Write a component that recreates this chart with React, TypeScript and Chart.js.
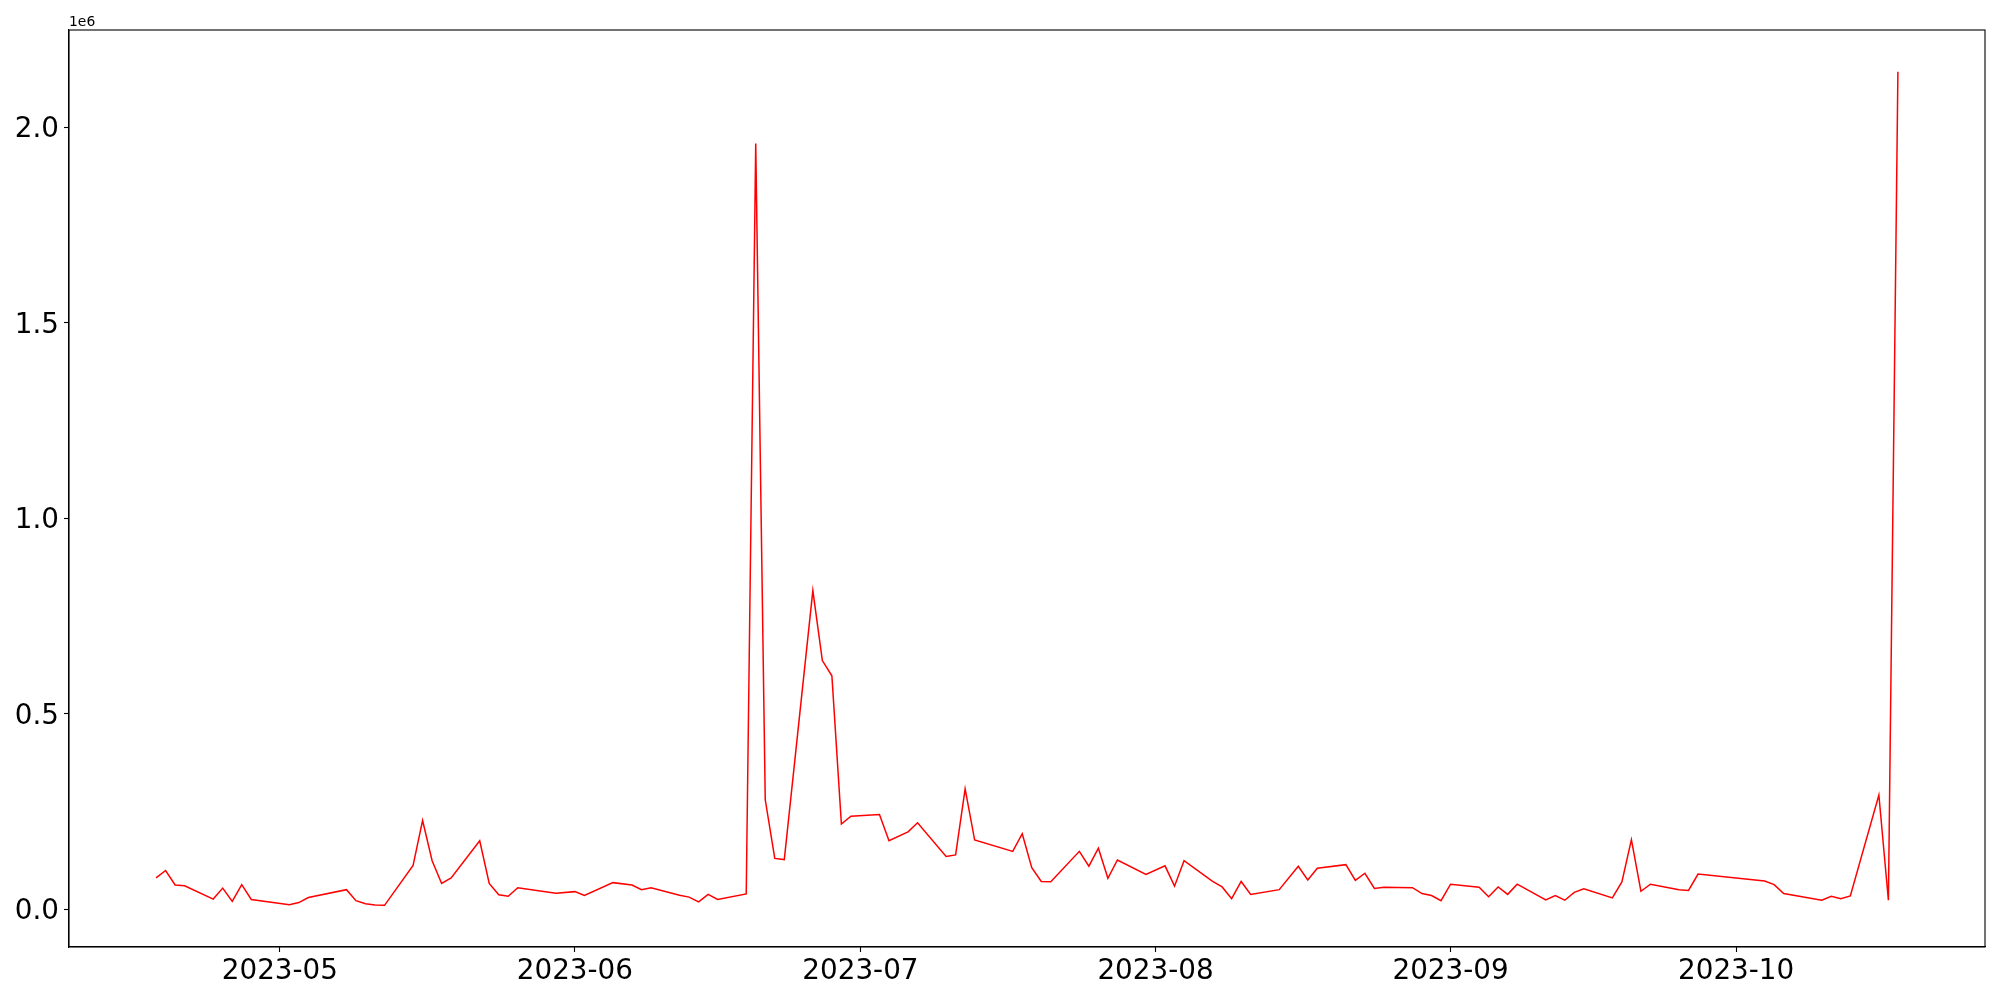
import React, { useEffect, useRef } from "react";
import { Chart, registerables } from "chart.js";

Chart.register(...registerables);

const dates: string[] = [
  "2023-04-18", "2023-04-19", "2023-04-20", "2023-04-21", "2023-04-24", "2023-04-25", "2023-04-26", "2023-04-27", "2023-04-28",
  "2023-05-02", "2023-05-03", "2023-05-04", "2023-05-08", "2023-05-09", "2023-05-10", "2023-05-11", "2023-05-12",
  "2023-05-15", "2023-05-16", "2023-05-17", "2023-05-18", "2023-05-19", "2023-05-22", "2023-05-23", "2023-05-24",
  "2023-05-25", "2023-05-26", "2023-05-30", "2023-06-01", "2023-06-02", "2023-06-05", "2023-06-07", "2023-06-08",
  "2023-06-09", "2023-06-12", "2023-06-13", "2023-06-14", "2023-06-15", "2023-06-16", "2023-06-19", "2023-06-20",
  "2023-06-21", "2023-06-22", "2023-06-23", "2023-06-26", "2023-06-27", "2023-06-28", "2023-06-29", "2023-06-30",
  "2023-07-03", "2023-07-04", "2023-07-06", "2023-07-07", "2023-07-10", "2023-07-11", "2023-07-12", "2023-07-13",
  "2023-07-17", "2023-07-18", "2023-07-19", "2023-07-20", "2023-07-21", "2023-07-24", "2023-07-25", "2023-07-26",
  "2023-07-27", "2023-07-28", "2023-07-31", "2023-08-02", "2023-08-03", "2023-08-04", "2023-08-07", "2023-08-08",
  "2023-08-09", "2023-08-10", "2023-08-11", "2023-08-14", "2023-08-16", "2023-08-17", "2023-08-18", "2023-08-21",
  "2023-08-22", "2023-08-23", "2023-08-24", "2023-08-25", "2023-08-28", "2023-08-29", "2023-08-30", "2023-08-31",
  "2023-09-01", "2023-09-04", "2023-09-05", "2023-09-06", "2023-09-07", "2023-09-08", "2023-09-11", "2023-09-12",
  "2023-09-13", "2023-09-14", "2023-09-15", "2023-09-18", "2023-09-19", "2023-09-20", "2023-09-21", "2023-09-22",
  "2023-09-25", "2023-09-26", "2023-09-27", "2023-10-04", "2023-10-05", "2023-10-06", "2023-10-10", "2023-10-11",
  "2023-10-12", "2023-10-13", "2023-10-16", "2023-10-17", "2023-10-18",
];

const values: number[] = [
  80000, 99000, 62000, 60000, 26000, 54000, 20000, 63000, 25000,
  11500, 17000, 30000, 50000, 22000, 14000, 11000, 10000,
  112000, 227000, 124000, 66000, 80000, 175000, 66000, 37000,
  33000, 55000, 41000, 45000, 35000, 68000, 62000, 50000,
  55000, 36000, 31000, 19000, 38000, 25000, 39000, 1958000,
  280000, 130000, 127000, 815000, 636000, 597000, 218000, 238000,
  242000, 175000, 198000, 221000, 135000, 139000, 308000, 177000,
  148000, 193000, 106000, 71000, 70000, 148000, 110000, 156000,
  79000, 126000, 89000, 111000, 59000, 124000, 71000, 57000,
  27000, 71000, 38000, 50000, 110000, 75000, 105000, 114000,
  74000, 92000, 53000, 56000, 55000, 40000, 35000, 22000,
  64000, 56000, 32000, 57000, 38000, 64000, 24000, 35000,
  23000, 43000, 52000, 29000, 70000, 178000, 46000, 64000,
  50000, 48000, 90000, 72000, 63000, 40000, 23000, 33000,
  27000, 34000, 292000, 23000, 2142000,
];

const xTickLabels: string[] = ["2023-05", "2023-06", "2023-07", "2023-08", "2023-09", "2023-10"];
const yTickValues: number[] = [0, 500000, 1000000, 1500000, 2000000];

const DAY = 86400000;
const toDay = (s: string) => {
  const [y, m, d] = s.split("-").map(Number);
  return Date.UTC(y, m - 1, d) / DAY;
};
const fmtMonth = (v: number) => {
  const dt = new Date(v * DAY);
  return `${dt.getUTCFullYear()}-${String(dt.getUTCMonth() + 1).padStart(2, "0")}`;
};

export default function App() {
  const ref = useRef<HTMLCanvasElement>(null);
  useEffect(() => {
    const canvas = ref.current!;
    const pts = dates.map((d, i) => ({ x: toDay(d), y: values[i] }));
    const xs = pts.map((p) => p.x);
    const xMin0 = Math.min(...xs), xMax0 = Math.max(...xs);
    const xm = (xMax0 - xMin0) * 0.05;
    const yMin0 = Math.min(...values), yMax0 = Math.max(...values);
    const ym = (yMax0 - yMin0) * 0.05;
    const xTicks = xTickLabels.map((l) => toDay(l + "-01"));
    const font = { family: "'DejaVu Sans', sans-serif", size: 27.8 };

    const boxPlugin = {
      id: "box",
      afterDraw(chart: any) {
        const { ctx, chartArea } = chart;
        ctx.save();
        ctx.strokeStyle = "#000";
        ctx.lineWidth = 1.1;
        ctx.strokeRect(chartArea.left, chartArea.top, chartArea.right - chartArea.left, chartArea.bottom - chartArea.top);
        ctx.fillStyle = "#000";
        ctx.font = "13.9px 'DejaVu Sans', sans-serif";
        ctx.textAlign = "left";
        ctx.textBaseline = "alphabetic";
        ctx.fillText("1e6", chartArea.left, chartArea.top - 4);
        ctx.restore();
      },
    };

    const chart = new Chart(canvas, {
      type: "line",
      data: {
        datasets: [
          {
            data: pts,
            borderColor: "#ff0000",
            borderWidth: 1.5,
            pointRadius: 0,
            tension: 0,
            fill: false,
          },
        ],
      },
      options: {
        animation: false,
        responsive: false,
        parsing: false as any,
        layout: { padding: { top: 30, right: 15, left: 0, bottom: 0 } },
        plugins: { legend: { display: false }, tooltip: { enabled: false } },
        scales: {
          x: {
            type: "linear",
            min: xMin0 - xm,
            max: xMax0 + xm,
            grid: { drawOnChartArea: false, tickLength: 5, tickColor: "#000", tickWidth: 1.1 },
            border: { display: true, color: "#000", width: 1.1 },
            afterBuildTicks: (scale: any) => {
              scale.ticks = xTicks.map((v) => ({ value: v }));
            },
            afterFit: (scale: any) => {
              scale.height = 53;
            },
            ticks: {
              autoSkip: false,
              maxRotation: 0,
              color: "#000",
              font,
              padding: 3,
              callback: (v: any) => fmtMonth(Number(v)),
            },
          },
          y: {
            type: "linear",
            min: yMin0 - ym,
            max: yMax0 + ym,
            grid: { drawOnChartArea: false, tickLength: 5, tickColor: "#000", tickWidth: 1.1 },
            border: { display: true, color: "#000", width: 1.1 },
            afterBuildTicks: (scale: any) => {
              scale.ticks = yTickValues.map((v) => ({ value: v }));
            },
            afterFit: (scale: any) => {
              scale.width = 69;
            },
            ticks: {
              color: "#000",
              font,
              padding: 5,
              labelOffset: 3,
              callback: (v: any) => (Number(v) / 1e6).toFixed(1),
            },
          },
        },
      },
      plugins: [boxPlugin],
    });
    return () => chart.destroy();
  }, []);

  return (
    <div style={{ position: "fixed", left: 0, top: 0, width: 2000, height: 1000, background: "#fff" }}>
      <canvas ref={ref} width={2000} height={1000} style={{ display: "block" }} />
    </div>
  );
}
